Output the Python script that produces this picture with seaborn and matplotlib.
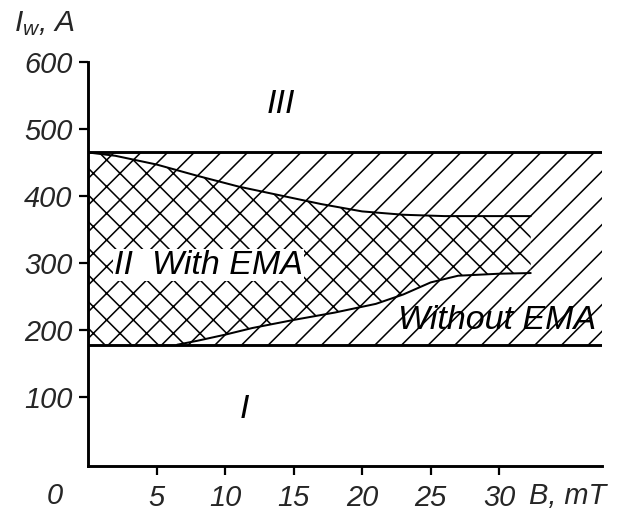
"""
Welding current regions vs. magnetic induction, with and without EMA.
"""

import numpy as np
import matplotlib
matplotlib.use('Agg')
import matplotlib.pyplot as plt
import seaborn as sns

# Region limits (A)
i_top = 465
i_bottom = 178
b_end = 37.8

# Upper boundary of the "with EMA" region
b_upper = [0, 2, 5, 8, 11, 14, 17, 20, 23, 26, 29, 32.3]
i_upper = [465, 460, 447, 430, 414, 401, 388, 377, 372, 370, 370, 370]

# Lower boundary of the "with EMA" region
b_lower = [0, 6.5, 8, 10, 12, 15, 18, 21, 23, 25, 27, 30, 32.3]
i_lower = [178, 178, 184, 193, 203, 215, 226, 239, 253, 271, 281, 284, 285]

x_ticks = [5, 10, 15, 20, 25, 30]
y_ticks = [100, 200, 300, 400, 500, 600]

dpi = 160


def fs(px):
    # font size in points for a given em height in pixels
    return px * 72 / dpi


sns.set_theme(style='white')
plt.rcParams['font.family'] = ['Liberation Sans', 'DejaVu Sans']
plt.rcParams['font.style'] = 'italic'
plt.rcParams['hatch.linewidth'] = 0.7
plt.rcParams['hatch.color'] = 'black'
plt.rcParams['mathtext.fontset'] = 'custom'
plt.rcParams['mathtext.it'] = 'Liberation Sans:italic'
plt.rcParams['mathtext.rm'] = 'Liberation Sans:italic'

fig = plt.figure(figsize=(624 / dpi, 527 / dpi), dpi=dpi)
ax = fig.add_axes([88 / 624, 1 - 466 / 527, (602 - 88) / 624, (466 - 62) / 527])

# band without EMA (single hatch)
ax.fill_between([0, b_end], [i_bottom, i_bottom], [i_top, i_top],
                facecolor='none', edgecolor='black', hatch='//', linewidth=0)

# band with EMA (cross hatch)
poly_x = np.r_[b_upper, b_lower[::-1]]
poly_y = np.r_[i_upper, i_lower[::-1]]
ax.fill(poly_x, poly_y, facecolor='white', edgecolor='black', hatch='xx', linewidth=0)

# boundaries
ax.plot([0, b_end], [i_top, i_top], color='black', lw=1.3)
ax.plot([0, b_end], [i_bottom, i_bottom], color='black', lw=1.3)
sns.lineplot(x=b_upper, y=i_upper, ax=ax, color='black', lw=0.9)
sns.lineplot(x=b_lower[1:], y=i_lower[1:], ax=ax, color='black', lw=0.9)

ax.set_xlim(0, 37.5)
ax.set_ylim(-3, 600)
ax.set_xticks(x_ticks)
ax.set_xticklabels([str(t) for t in x_ticks])
ax.set_yticks(y_ticks)
ax.set_yticklabels([str(t) for t in y_ticks])
ax.tick_params(axis='both', direction='out', length=4, width=1.0, color='black',
               labelsize=fs(29), pad=3, left=True, bottom=True)
for lab in ax.get_xticklabels() + ax.get_yticklabels():
    lab.set_fontstyle('italic')
ax.tick_params(axis='x', pad=4)

for side in ['top', 'right']:
    ax.spines[side].set_visible(False)
for side in ['left', 'bottom']:
    ax.spines[side].set_color('black')
    ax.spines[side].set_linewidth(1.3)

txt = dict(color='black', fontsize=fs(34), style='italic')
ax.text(22.6, 214, 'Without EMA', ha='left', va='center', **txt)
ax.text(1.9, 297, 'II  With EMA', ha='left', va='center',
        bbox=dict(facecolor='white', edgecolor='none', pad=0.3), **txt)
ax.text(14.1, 536, 'III', ha='center', va='center', **txt)
ax.text(11.4, 82, 'I', ha='center', va='center', **txt)

ax.text(-2.4, -48, '0', ha='center', va='center', fontsize=fs(29), style='italic',
        clip_on=False)
ax.text(32.2, -48, 'B, mT', ha='left', va='center', fontsize=fs(29), style='italic',
        clip_on=False)
fig.text(14 / 624, 1 - 24 / 527, r'$I_w$, A', ha='left', va='center',
         fontsize=fs(30), style='italic')

fig.savefig('out.png', dpi=dpi, facecolor='white')
